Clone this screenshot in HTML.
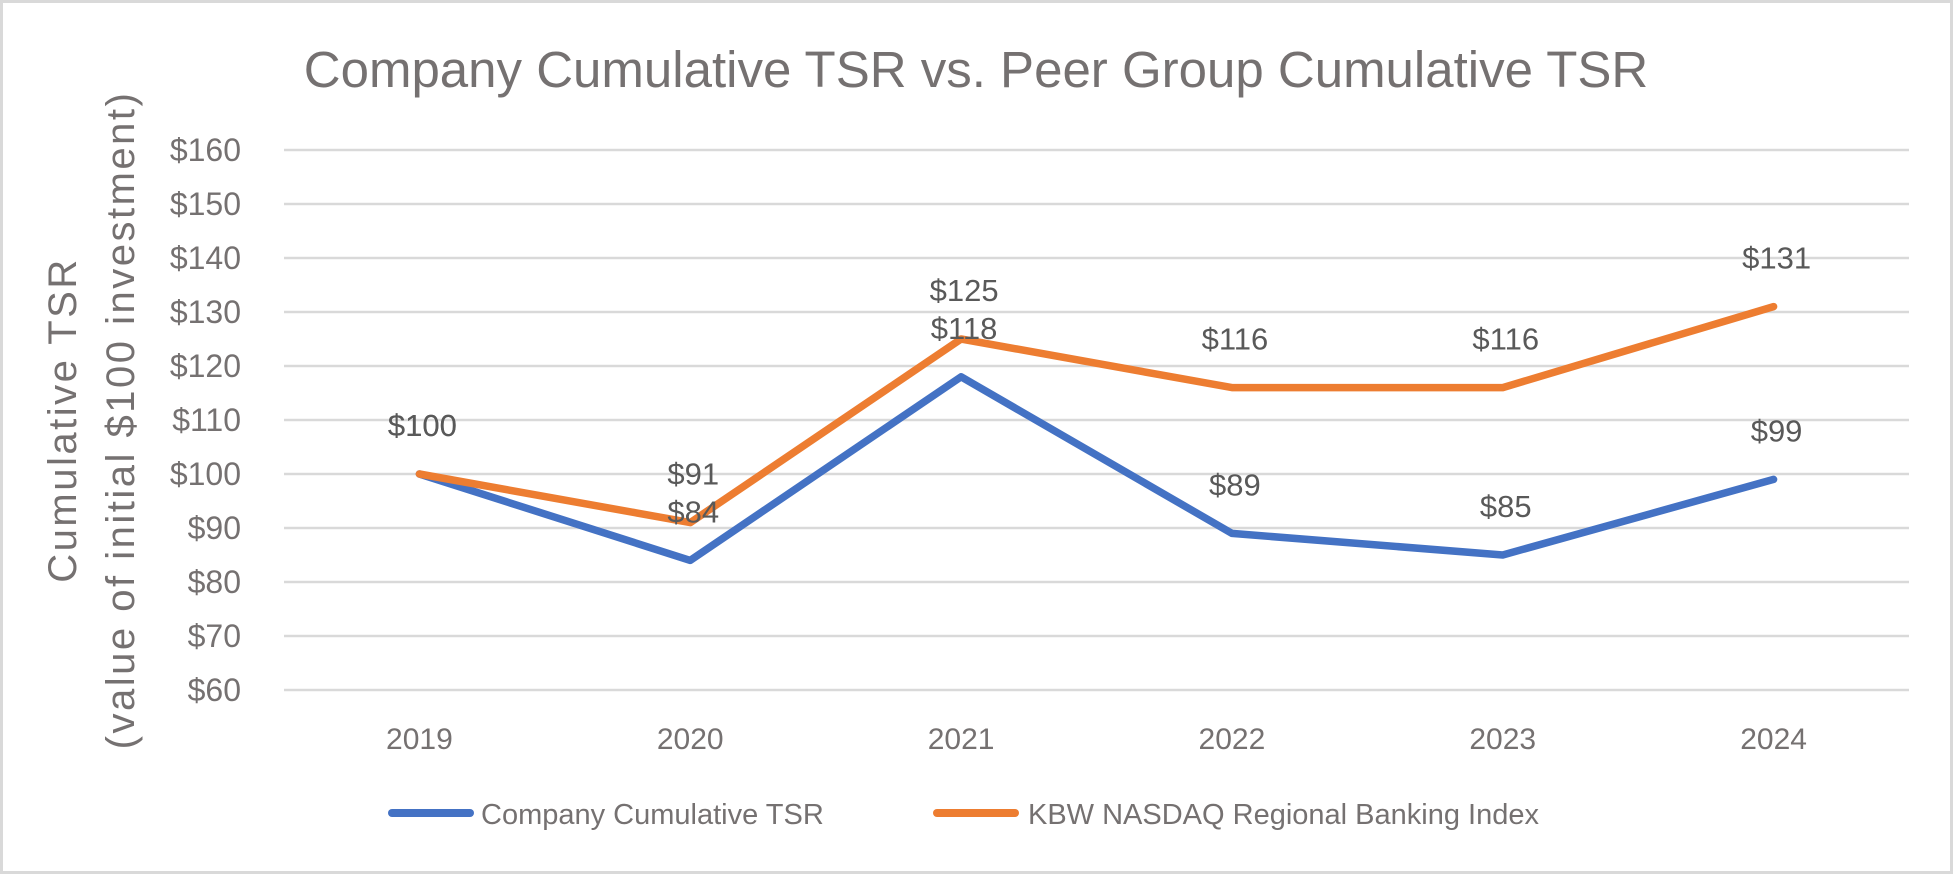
<!DOCTYPE html>
<html><head><meta charset="utf-8"><style>
html,body{margin:0;padding:0;background:#fff;}
svg{display:block;font-family:"Liberation Sans",sans-serif;}
</style></head><body>
<svg id="chart" width="1953" height="874" viewBox="0 0 1953 874">
<rect x="1.5" y="1.5" width="1950" height="871" fill="#fff" stroke="#d9d9d9" stroke-width="3"/>
<text x="976" y="87" text-anchor="middle" font-size="51" fill="#757171">Company Cumulative TSR vs. Peer Group Cumulative TSR</text>
<g transform="translate(76,420) rotate(-90)">
<text x="0" y="0" text-anchor="middle" font-size="40" letter-spacing="2.5" fill="#757171">Cumulative TSR</text>
<text x="0" y="58" text-anchor="middle" font-size="40" letter-spacing="2.5" fill="#757171">(value of initial $100 investment)</text>
</g>
<g id="grid"></g><g id="yticks"></g><g id="xticks"></g><g id="series"></g><g id="labels"></g>
<g>
<line x1="392" y1="813" x2="470" y2="813" stroke="#4472C4" stroke-width="8" stroke-linecap="round"/>
<text x="481" y="824" font-size="29" fill="#757171">Company Cumulative TSR</text>
<line x1="937" y1="813" x2="1015" y2="813" stroke="#ED7D31" stroke-width="8" stroke-linecap="round"/>
<text x="1028" y="824" font-size="29" fill="#757171">KBW NASDAQ Regional Banking Index</text>
</g>
</svg>
<script>
const categories=["2019","2020","2021","2022","2023","2024"];
const companyValues=[100,84,118,89,85,99];
const kbwValues=[100,91,125,116,116,131];
const yTicks=[60,70,80,90,100,110,120,130,140,150,160];
const NS="http://www.w3.org/2000/svg";
const L=284,R=1909,T=150,B=690,yMin=60,yMax=160;
const xs=i=>L+(R-L)/categories.length*(i+0.5);
const ys=v=>B-(v-yMin)/(yMax-yMin)*(B-T);
function mk(tag,attrs,parent,txt){const e=document.createElementNS(NS,tag);for(const k in attrs)e.setAttribute(k,attrs[k]);if(txt!==undefined)e.textContent=txt;parent.appendChild(e);return e;}
const grid=document.getElementById('grid'),yt=document.getElementById('yticks'),xt=document.getElementById('xticks'),se=document.getElementById('series'),lb=document.getElementById('labels');
yTicks.forEach(v=>{
const g=mk('line',{x1:L,x2:R,y1:ys(v),y2:ys(v),stroke:'#d9d9d9','stroke-width':2.5},grid);


const t=mk('text',{x:241,y:ys(v)+11,'text-anchor':'end','font-size':32,fill:'#757171'},yt,'$'+v);


});
categories.forEach((c,i)=>{
const t=mk('text',{x:xs(i),y:749,'text-anchor':'middle','font-size':30,fill:'#757171'},xt,c);


});
function series(vals,color,name){
const p=mk('polyline',{points:vals.map((v,i)=>xs(i)+','+ys(v)).join(' '),fill:'none',stroke:color,'stroke-width':7.5,'stroke-linejoin':'round','stroke-linecap':'round'},se);


vals.forEach((v,i)=>{
const t=mk('text',{x:xs(i)+3,y:ys(v)-38,'text-anchor':'middle','font-size':31,fill:'#595959'},lb,'$'+v);


});
}
series(companyValues,'#4472C4','company');
series(kbwValues,'#ED7D31','kbw');
</script>
</body></html>
